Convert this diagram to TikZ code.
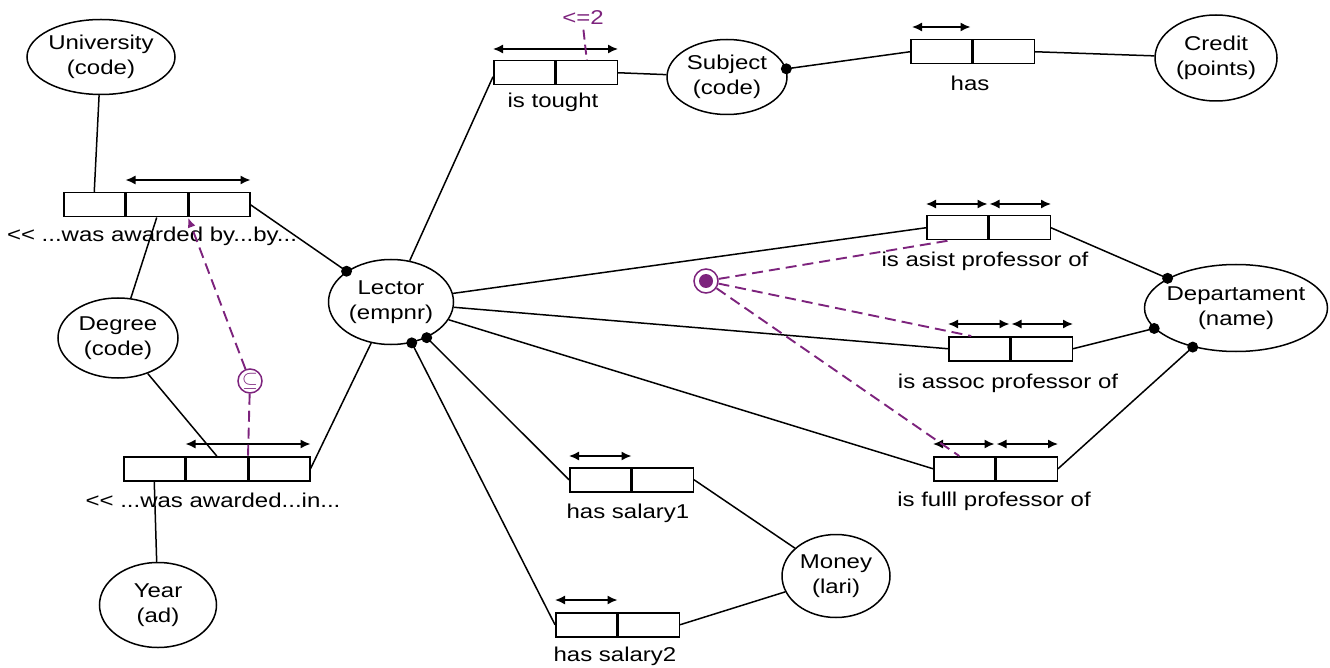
\documentclass[tikz,border=0pt]{standalone}
\usepackage{fontspec}
\setmainfont[FakeStretch=1.2]{Liberation Sans}
\usetikzlibrary{arrows.meta,shapes.geometric,calc}
\definecolor{purp}{RGB}{125,35,125}
\newcommand\twobox[3]{%
  \node[cell,anchor=north west] (#1a) at (#2,#3) {};
  \node[cell,anchor=west] (#1b) at (#1a.east) {};}
\newcommand\threebox[3]{%
  \node[cell,anchor=north west] (#1a) at (#2,#3) {};
  \node[cell,anchor=west] (#1b) at (#1a.east) {};
  \node[cell,anchor=west] (#1c) at (#1b.east) {};}
\newcommand\entity[6]{%
  \node[ent,minimum width=#4pt,minimum height=#5pt] (#1) at (#2,#3) {};
  \node[align=center,inner sep=0] (#1-t) at (#1) {#6};}
\begin{document}
\begin{tikzpicture}[x=1pt,y=-1pt,
  font=\fontsize{20}{25}\selectfont,
  line width=1.5pt,
  ent/.style={ellipse,draw,inner sep=0},
  cell/.style={draw,minimum width=61pt,minimum height=24pt,inner sep=0},
  dot/.style={circle,fill,inner sep=0,minimum size=11pt},
  dbl/.style={line width=1.5pt,{Latex[length=10pt,width=9pt]}-{Latex[length=10pt,width=9pt]}},
  pdash/.style={purp,line width=1.9pt,dash pattern=on 11pt off 6pt},
  lbl/.style={anchor=base,inner sep=0}]
\useasboundingbox (0,0) rectangle (1330,668);

% entities
\entity{univ}{101}{57}{148}{75}{University\\(code)}
\entity{degree}{118}{338}{120}{80}{Degree\\(code)}
\entity{year}{158}{605}{117}{85}{Year\\(ad)}
\entity{lector}{391}{302}{125}{85}{Lector\\(empnr)}
\entity{subject}{727}{77}{120}{75}{Subject\\(code)}
\entity{credit}{1216}{58}{122}{86}{Credit\\(points)}
\entity{dept}{1236}{308}{183}{87}{Departament\\(name)}
\entity{money}{836}{576}{108}{83}{Money\\(lari)}

% role boxes
\threebox{awby}{63}{192}
\threebox{awin}{123}{456}
\twobox{tought}{493}{60}
\twobox{has}{910}{39}
\twobox{asist}{926}{215}
\twobox{assoc}{948}{336}
\twobox{fulll}{933}{456}
\twobox{sala}{569}{467}
\twobox{salb}{555}{612}

% box labels
\node[lbl] (l-awby) at (152,242) {<\kern0pt< ...was awarded by...by...};
\node[lbl] (l-awin) at (213,507) {<\kern0pt< ...was awarded...in...};
\node[lbl] (l-tought) at (553,108) {is tought};
\node[lbl] (l-has) at (970,91) {has};
\node[lbl] (l-asist) at (985,267) {is asist professor of};
\node[lbl] (l-assoc) at (1008,388) {is assoc professor of};
\node[lbl] (l-fulll) at (994,506) {is fulll professor of};
\node[lbl] (l-sala) at (628,518) {has salary1};
\node[lbl] (l-salb) at (615,661) {has salary2};

% uniqueness arrows
\draw[dbl] ([yshift=12pt]awbyb.north west) -- ([yshift=12pt]awbyc.north east);
\draw[dbl] ([yshift=12pt]awinb.north west) -- ([yshift=12pt]awinc.north east);
\draw[dbl] ([yshift=11pt]toughta.north west) -- ([yshift=11pt]toughtb.north east);
\draw[dbl] ([yshift=12pt,xshift=2pt]hasa.north west) -- ([yshift=12pt,xshift=-2pt]hasa.north east);
\draw[dbl] ([yshift=11pt]asista.north west) -- ([yshift=11pt,xshift=-1pt]asista.north east);
\draw[dbl] ([yshift=11pt,xshift=1pt]asistb.north west) -- ([yshift=11pt]asistb.north east);
\draw[dbl] ([yshift=12pt]assoca.north west) -- ([yshift=12pt,xshift=-1pt]assoca.north east);
\draw[dbl] ([yshift=12pt,xshift=1pt]assocb.north west) -- ([yshift=12pt]assocb.north east);
\draw[dbl] ([yshift=12pt]fullla.north west) -- ([yshift=12pt,xshift=-1pt]fullla.north east);
\draw[dbl] ([yshift=12pt,xshift=1pt]fulllb.north west) -- ([yshift=12pt]fulllb.north east);
\draw[dbl] ([yshift=11pt]salaa.north west) -- ([yshift=11pt]salaa.north east);
\draw[dbl] ([yshift=12pt]salba.north west) -- ([yshift=12pt]salba.north east);

% connectors
\draw (univ) -- (awbya.north);
\draw (awbyc.east) -- (lector) node[dot,pos=1] (d1) {};
\draw (degree) -- (awbyb.south);
\draw (degree) -- (awinb.north);
\draw (awina.south) -- (year);
\draw (awinc.east) -- (lector);
\draw (lector) -- ([yshift=-4pt]toughta.west);
\draw (toughtb.east) -- (subject);
\draw (subject) -- (hasa.west) node[dot,pos=0] (d2) {};
\draw (hasb.east) -- (credit);
\draw (lector) -- (asista.west);
\draw (lector) -- (assoca.west);
\draw (lector) -- (fullla.west);
\draw (lector) -- (salaa.west) node[dot,pos=0] (d3) {};
\draw (lector) -- (salba.west) node[dot,pos=0] (d4) {};
\draw (salab.east) -- (money);
\draw (salbb.east) -- (money);
\draw (asistb.east) -- (dept) node[dot,pos=1] (d5) {};
\draw (assocb.east) -- (dept) node[dot,pos=1] (d6) {};
\draw (fulllb.east) -- (dept) node[dot,pos=1] (d7) {};

% constraints
\node[draw=purp,circle,minimum size=24pt,inner sep=0,line width=1.5pt,text=purp] (sub) at (250,381) {$\subseteq$};
\draw[pdash,-{Latex[length=10pt,width=8pt]}] (sub) -- (awbyc.south west);
\draw[pdash] (sub) -- (awinc.north west);

\node[draw=purp,circle,minimum size=24pt,inner sep=0,line width=1.5pt] (excl) at (706,281) {};
\node[circle,fill=purp,minimum size=14pt,inner sep=0] (excl-c) at (excl) {};
\draw[pdash] (excl) -- ([xshift=-8pt]asista.south);
\draw[pdash] (excl) -- ([xshift=-8pt]assoca.north);
\draw[pdash] (excl) -- ([xshift=-5pt]fullla.north);

\node[lbl,text=purp] (le2) at (583,25) {<=2};
\draw[purp,line width=1.9pt,dash pattern=on 10pt off 5pt,shorten <=4pt] (le2.south) -- (toughtb.north);
\end{tikzpicture}
\end{document}
